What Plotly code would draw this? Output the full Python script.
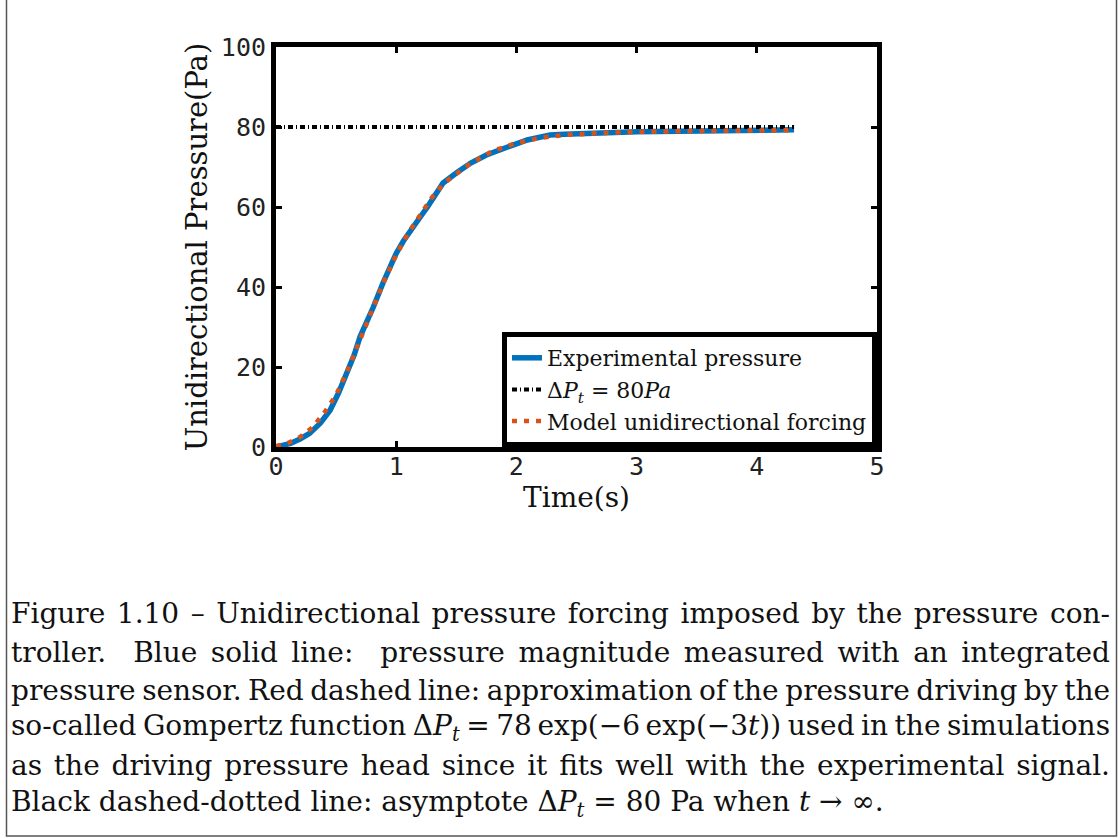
import plotly.graph_objects as go

# ---------------- data ----------------
t_exp = [0, 0.05, 0.12, 0.2, 0.28, 0.37, 0.45, 0.52, 0.59, 0.65, 0.70, 0.76, 0.81,
         0.89, 0.95, 1.0, 1.06, 1.12, 1.2, 1.26, 1.33, 1.39, 1.5, 1.62, 1.75, 1.89,
         2.0, 2.09, 2.2, 2.28, 2.4, 2.7, 3.0, 3.53, 4.0, 4.31]
p_exp = [0, 0.3, 0.9, 2.0, 3.4, 6.0, 9.2, 13.5, 18.4, 23.0, 27.6, 31.5, 35.0,
         41.0, 45.0, 48.4, 51.5, 54.3, 57.5, 60.0, 63.5, 66.0, 68.5, 71.0, 73.0, 74.7,
         75.8, 76.75, 77.5, 78.0, 78.2, 78.6, 78.8, 79.0, 79.2, 79.3]

t_model = [0, 0.1, 0.2, 0.3, 0.4, 0.5, 0.6, 0.7, 0.8, 0.9, 1.0, 1.1, 1.2, 1.3, 1.4,
           1.6, 1.8, 2.0, 2.2, 2.4, 2.7, 3.0, 3.5, 4.0, 4.3]
p_model = [0.2, 1.0, 2.5, 4.8, 8.5, 13.0, 19.5, 27.0, 34.5, 41.5, 48.0, 53.5, 58.0,
           62.5, 66.0, 70.5, 74.0, 76.0, 77.3, 78.0, 78.5, 78.8, 79.0, 79.1, 79.2]

t_asym = [0, 4.31]
p_asym = [80, 80]

x_ticks = [0, 1, 2, 3, 4, 5]
y_ticks = [0, 20, 40, 60, 80, 100]

names = ["Experimental pressure",
         "Δ<i>P</i><sub><i>t</i></sub> = 80<i>Pa</i>",
         "Model unidirectional forcing"]

caption_lines = [
    "Figure 1.10 – Unidirectional pressure forcing imposed by the pressure con-",
    "troller.  Blue solid line:  pressure magnitude measured with an integrated",
    "pressure sensor. Red dashed line: approximation of the pressure driving by the",
    "so-called Gompertz function Δ<i>P</i><sub><i>t</i></sub> = 78\u2009exp(−6\u2009exp(−3<i>t</i>)) used in the simulations",
    "as the driving pressure head since it fits well with the experimental signal.",
    "Black dashed-dotted line: asymptote Δ<i>P</i><sub><i>t</i></sub> = 80 Pa when <i>t</i> → ∞.",
]

# ---------------- layout geometry ----------------
W, H = 1119, 838
L, R, T, B = 276, 877, 47, 447   # plot area in pixels


def px2paper_x(px):
    return (px - L) / (R - L)


def px2paper_y(py):
    return (B - py) / (B - T)


SERIF = "DejaVu Serif"
MONO = "DejaVu Sans Mono"

fig = go.Figure()
fig.add_trace(go.Scatter(x=t_exp, y=p_exp, mode="lines", name=names[0],
                         line=dict(color="#0072BD", width=5.5)))
fig.add_trace(go.Scatter(x=t_asym, y=p_asym, mode="lines", name=names[1],
                         line=dict(color="black", width=4, dash="5px,3px,1px,3px")))
fig.add_trace(go.Scatter(x=t_model, y=p_model, mode="lines", name=names[2],
                         line=dict(color="#D95319", width=4.5, dash="5px,7px")))

axis_common = dict(showgrid=False, zeroline=False, showline=True, linecolor="black",
                   linewidth=5, mirror="ticks", ticks="inside", ticklen=6,
                   tickwidth=3, tickcolor="black",
                   tickfont=dict(family=MONO, size=25, color="#222"))

fig.update_xaxes(range=[0, 5], tickvals=x_ticks, ticktext=[str(v) for v in x_ticks],
                 ticklabelstandoff=-7,
                 title=dict(text="Time(s)", font=dict(family=SERIF, size=28, color="#111"),
                            standoff=0),
                 **axis_common)
fig.update_yaxes(range=[0, 100], tickvals=y_ticks, ticktext=[str(v) for v in y_ticks],
                 title=dict(text="Unidirectional Pressure(Pa)",
                            font=dict(family=SERIF, size=29, color="#111"), standoff=6),
                 **axis_common)

annotations = []
line_y = [613, 652, 690, 727, 765, 803]
for txt, py in zip(caption_lines, line_y):
    annotations.append(dict(text=txt, xref="paper", yref="paper",
                            x=px2paper_x(9), y=px2paper_y(py), xanchor="left",
                            yanchor="middle", showarrow=False, align="left",
                            font=dict(family=SERIF, size=28, color="#111")))

shapes = [dict(type="rect", xref="paper", yref="paper",
               x0=px2paper_x(6.5), x1=px2paper_x(1116.5),
               y0=px2paper_y(836), y1=px2paper_y(-20),
               line=dict(color="#555", width=1.5), fillcolor="rgba(0,0,0,0)", layer="below")]

fig.update_layout(
    width=W, height=H,
    margin=dict(l=L, r=W - R, t=T, b=H - B),
    paper_bgcolor="white", plot_bgcolor="white",
    showlegend=True,
    legend=dict(x=1.0, y=0.0, xanchor="right", yanchor="bottom",
                bgcolor="white", bordercolor="black", borderwidth=5,
                font=dict(family=SERIF, size=22, color="#111"),
                itemwidth=30, tracegroupgap=0),
    annotations=annotations,
    shapes=shapes,
)

# remove the page margin and justify the first five caption lines (as in the LaTeX caption)
post = """
document.body.style.margin = '0';
document.body.style.overflow = 'hidden';
var gd = document.getElementById('{plot_id}');
var RIGHT = 1110;
for (var i = 0; i < 5; i++) {
  var t = gd.querySelector('g.annotation[data-index="' + i + '"] text.annotation-text');
  if (!t) continue;
  var n = (t.textContent.match(/ /g) || []).length;
  if (!n) continue;
  var r = t.getBoundingClientRect().right;
  t.style.wordSpacing = ((RIGHT - r) / n) + 'px';
}
"""

fig.write_html("out.html", post_script=post, config={"displayModeBar": False})
